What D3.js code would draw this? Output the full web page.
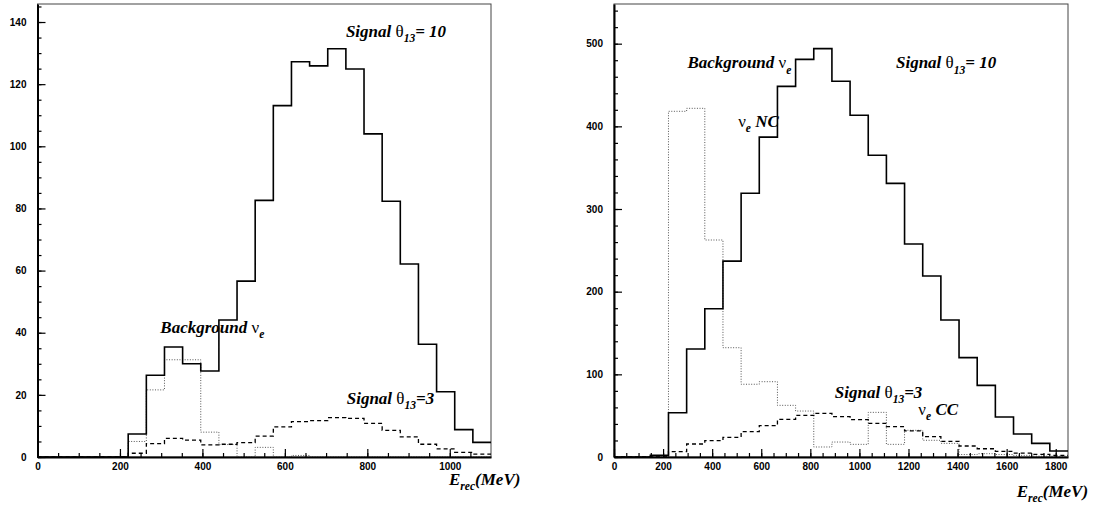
<!DOCTYPE html>
<html>
<head>
<meta charset="utf-8">
<script src="https://cdn.jsdelivr.net/npm/d3@7"></script>
<style>
  body { margin: 0; background: #fff; }
  svg { display: block; }
  .tick text { font-family: "Liberation Sans", Arial, sans-serif; font-weight: bold; font-size: 10px; }
  .lbl { font-family: "Liberation Serif", "Times New Roman", serif; font-weight: bold; font-style: italic; }
  .greek { font-weight: normal; font-style: normal; }
</style>
</head>
<body>
<svg id="chart" width="1109" height="507"></svg>
<script>
// left plot: 25 bins of 44 MeV, 0..1100
const leftEdges = d3.range(0, 1101, 44);
const leftSignal10 = [0, 0, 0, 0, 0, 7.4, 26.3, 35.4, 30.0, 27.7, 44.1, 56.6, 82.6, 113.1, 127.2, 125.9, 131.4, 124.9, 104, 82.3, 62.1, 36.3, 21.0, 8.8, 4.7];
const leftBackground = [0, 0, 0, 0, 0, 5.0, 21.6, 31.3, 31.3, 8.0, 4.0, 0, 3.1, 0, 0.5, 0, 0, 0, 0, 0, 0, 0, 0, 0, 0];
const leftSignal3 = [0, 0, 0, 0, 0, 1.2, 4.3, 6.0, 5.4, 3.9, 4.1, 4.6, 6.7, 9.7, 11.4, 11.7, 12.7, 12.4, 10.8, 8.6, 6.5, 4.1, 2.6, 1.5, 0.9];
const leftXTicks = [0, 200, 400, 600, 800, 1000];
const leftYTicks = [0, 20, 40, 60, 80, 100, 120, 140];

// right plot: 25 bins of 74 MeV, 0..1850
const rightEdges = d3.range(0, 1851, 74);
const rightSignal10 = [0, 0, 2, 53.6, 130.7, 179.4, 237, 319, 387, 448.4, 481, 494, 454.5, 413.4, 365, 331, 257.7, 219, 165.7, 120.2, 86.7, 48.4, 27.8, 16.5, 7.3];
const rightBackground = [0, 0, 0, 418.2, 421.8, 262.5, 132.2, 88, 91.1, 62.5, 55.6, 12.1, 18.1, 15.3, 54, 15.3, 32.3, 20.2, 16.5, 3, 4, 3, 2, 1, 1];
const rightSignal3 = [0, 0, 0, 6.4, 15.7, 19.8, 23.8, 30.6, 37.9, 45.6, 50.4, 52.8, 48.8, 45.2, 40.7, 36.7, 31.5, 24.6, 19, 13.3, 10, 6.9, 4.8, 3.2, 2];
const rightXTicks = [0, 200, 400, 600, 800, 1000, 1200, 1400, 1600, 1800];
const rightYTicks = [0, 100, 200, 300, 400, 500];

const svg = d3.select('#chart');

const stepPoints = (edges, vals) => {
  const pts = [[edges[0], 0]];
  vals.forEach((v, i) => {
    pts.push([edges[i], v]);
    pts.push([edges[i + 1], v]);
  });
  return pts;
};

// text with greek / subscript parts: [text, kind]
const label = (g, x, y, size, parts) => {
  const t = g.append('text')
      .attr('class', 'lbl')
      .attr('x', x).attr('y', y)
      .attr('font-size', size);
  let shift = 0;
  parts.forEach(([s, kind]) => {
    const sp = t.append('tspan').text(s);
    let target = 0;
    if (kind === 'g') sp.attr('class', 'greek');
    if (kind === 'sub') { target = size * 0.3; sp.attr('font-size', size * 0.68); }
    sp.attr('dy', target - shift);
    shift = target;
  });
  return t;
};

const panel = (opt) => {
  const x = d3.scaleLinear().domain([0, opt.xmax]).range([opt.left, opt.right]);
  const y = d3.scaleLinear().domain([0, opt.ymax]).range([opt.bottom, opt.top]);
  const g = svg.append('g');

  g.append('rect')
      .attr('x', opt.left).attr('y', opt.top)
      .attr('width', opt.right - opt.left).attr('height', opt.bottom - opt.top)
      .attr('fill', 'none').attr('stroke', '#444').attr('stroke-width', 1);

  const line = d3.line().x(d => x(d[0])).y(d => y(d[1]));

  g.append('path')
      .attr('d', line(stepPoints(opt.edges, opt.bg)))
      .attr('fill', 'none').attr('stroke', '#555').attr('stroke-width', 1)
      .attr('stroke-dasharray', '1,1.6');
  g.append('path')
      .attr('d', line(stepPoints(opt.edges, opt.sig3)))
      .attr('fill', 'none').attr('stroke', '#000').attr('stroke-width', 1.3)
      .attr('stroke-dasharray', '4,3');
  g.append('path')
      .attr('d', line(stepPoints(opt.edges, opt.sig10)))
      .attr('fill', 'none').attr('stroke', '#000').attr('stroke-width', 1.6);

  // minor ticks
  g.append('g')
      .attr('transform', `translate(0,${opt.bottom})`)
      .call(d3.axisBottom(x).tickValues(d3.range(0, opt.xmax, 50)).tickSize(-4).tickFormat(''))
      .call(a => a.select('.domain').remove());
  g.append('g')
      .attr('transform', `translate(${opt.left},0)`)
      .call(d3.axisLeft(y).tickValues(d3.range(0, opt.ymax, opt.yminor)).tickSize(-4).tickFormat(''))
      .call(a => a.select('.domain').remove());

  // major ticks + labels
  g.append('g')
      .attr('transform', `translate(0,${opt.bottom})`)
      .call(d3.axisBottom(x).tickValues(opt.xticks).tickFormat(d3.format('d'))
        .tickSizeInner(-8).tickSizeOuter(0).tickPadding(6))
      .call(a => a.select('.domain').attr('stroke-width', 2));
  g.append('g')
      .attr('transform', `translate(${opt.left},0)`)
      .call(d3.axisLeft(y).tickValues(opt.yticks).tickFormat(d3.format('d'))
        .tickSizeInner(-8).tickSizeOuter(0).tickPadding(11))
      .call(a => a.select('.domain').attr('stroke-width', 2));

  g.selectAll('.tick line').attr('stroke-width', 1.2);

  return {g, x, y};
};

const L = panel({
  left: 37.5, right: 491, top: 4, bottom: 457,
  xmax: 1100, ymax: 145.8, yminor: 5,
  edges: leftEdges, sig10: leftSignal10, bg: leftBackground, sig3: leftSignal3,
  xticks: leftXTicks, yticks: leftYTicks
});

const R = panel({
  left: 614, right: 1068, top: 4, bottom: 457,
  xmax: 1850, ymax: 548, yminor: 20,
  edges: rightEdges, sig10: rightSignal10, bg: rightBackground, sig3: rightSignal3,
  xticks: rightXTicks, yticks: rightYTicks
});

const fs = 17;
label(L.g, L.x(748), L.y(135.3), fs, [['Signal '], ['θ', 'g'], ['13', 'sub'], ['= 10']]);
label(L.g, L.x(298), L.y(40.0), fs, [['Background '], ['ν', 'g'], ['e', 'sub']]);
label(L.g, L.x(750), L.y(17.1), fs, [['Signal '], ['θ', 'g'], ['13', 'sub'], ['=3']]);
label(L.g, 449, 485, 17, [['E'], ['rec', 'sub'], ['(MeV)']]);

label(R.g, R.x(299), R.y(470), fs, [['Background '], ['ν', 'g'], ['e', 'sub']]);
label(R.g, R.x(506), R.y(399), fs, [['ν', 'g'], ['e', 'sub'], [' NC']]);
label(R.g, R.x(1149), R.y(470), fs, [['Signal '], ['θ', 'g'], ['13', 'sub'], ['= 10']]);
label(R.g, R.x(900), R.y(71), fs, [['Signal '], ['θ', 'g'], ['13', 'sub'], ['=3']]);
label(R.g, R.x(1240), R.y(50.8), fs, [['ν', 'g'], ['e', 'sub'], [' CC']]);
label(R.g, 1016.7, 496.7, 17, [['E'], ['rec', 'sub'], ['(MeV)']]);
</script>
</body>
</html>
